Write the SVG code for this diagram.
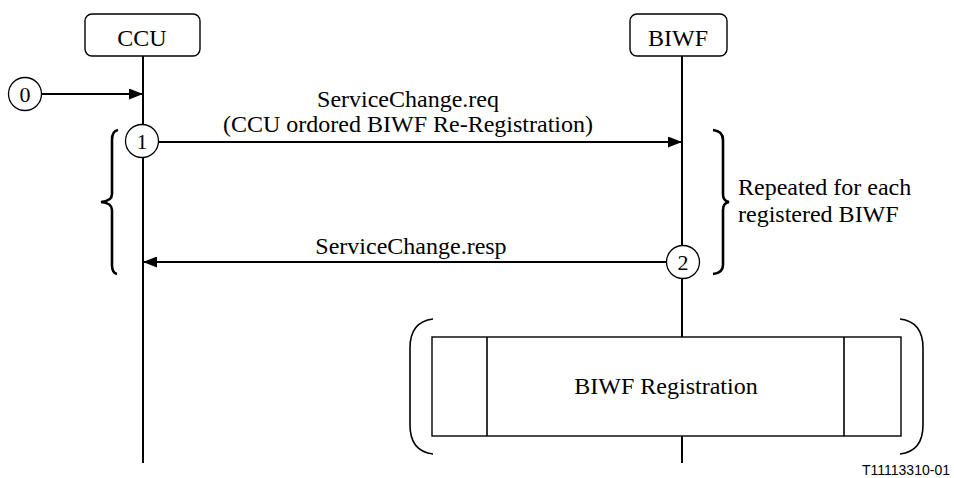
<svg xmlns="http://www.w3.org/2000/svg" width="954" height="478" viewBox="0 0 954 478">
<style>
.t{font-family:"Liberation Serif","Times New Roman",serif;font-size:24px;fill:#000}
.n{font-family:"Liberation Serif","Times New Roman",serif;font-size:22px;fill:#000}
.box{fill:#fff;stroke:#000;stroke-width:1.4}
.ln{stroke:#000;stroke-width:2;fill:none}
.br{stroke:#000;stroke-width:2.6;fill:none}
.pr{stroke:#000;stroke-width:1.6;fill:none}
.c{fill:#fff;stroke:#000;stroke-width:1.3}
</style>
<defs>
<marker id="ah" viewBox="0 0 14 11" refX="14" refY="5.5" markerWidth="14" markerHeight="11" markerUnits="userSpaceOnUse" orient="auto">
<path d="M0,0 L14,5.5 L0,11 Z" fill="#000"/>
</marker>
</defs>
<rect width="954" height="478" fill="#fff"/>
<g id="lifelines">
<line class="ln" x1="143" y1="56" x2="143" y2="463"/>
<line class="ln" x1="682" y1="56" x2="682" y2="463"/>
</g>
<g id="CCU">
<rect class="box" x="85" y="14" width="115" height="42" rx="7"/>
<text class="t" x="142" y="46" text-anchor="middle">CCU</text>
</g>
<g id="BIWF">
<rect class="box" x="630" y="14" width="97" height="42" rx="7"/>
<text class="t" x="678" y="46" text-anchor="middle">BIWF</text>
</g>
<g id="connectors">
<line class="ln" x1="42" y1="94" x2="143" y2="94" marker-end="url(#ah)"/>
<line class="ln" x1="158" y1="142" x2="682" y2="142" marker-end="url(#ah)"/>
<line class="ln" x1="666" y1="262" x2="143" y2="262" marker-end="url(#ah)"/>
</g>
<g id="labels">
<text class="t" x="408" y="107" text-anchor="middle">ServiceChange.req</text>
<text class="t" x="408" y="132" text-anchor="middle">(CCU ordored BIWF Re-Registration)</text>
<text class="t" x="411" y="254" text-anchor="middle">ServiceChange.resp</text>
</g>
<g id="step0">
<circle class="c" cx="25" cy="94" r="16.5"/>
<text class="n" x="25" y="102" text-anchor="middle">0</text>
</g>
<g id="step1">
<circle class="c" cx="142" cy="141" r="16.5"/>
<text class="n" x="142" y="149" text-anchor="middle">1</text>
</g>
<g id="step2">
<circle class="c" cx="683" cy="262" r="16.5"/>
<text class="n" x="683" y="270" text-anchor="middle">2</text>
</g>
<g id="left-brace">
<path class="br" d="M118,130 Q112,131 112,140 L112,194 Q112,201 101,202 Q112,203 112,210 L112,265 Q112,273 117,274"/>
</g>
<g id="right-brace">
<path class="br" d="M713,130 Q723,131 723,140 L723,194 Q723,201 729,202 Q723,203 723,210 L723,265 Q723,273 713,274"/>
<text class="t" x="738" y="195">Repeated for each</text>
<text class="t" x="738" y="222">registered BIWF</text>
</g>
<g id="BIWF-Registration">
<path class="pr" d="M433,319 C416,321 410,333 410,348 L410,425 C410,440 416,452 433,454"/>
<path class="pr" d="M900,319 C917,321 923,333 923,348 L923,425 C923,440 917,452 900,454"/>
<rect class="box" x="432" y="337" width="469" height="99"/>
<line class="pr" x1="487" y1="337" x2="487" y2="436"/>
<line class="pr" x1="844" y1="337" x2="844" y2="436"/>
<text class="t" x="666" y="394" text-anchor="middle">BIWF Registration</text>
</g>
<text x="862" y="475" font-family="Liberation Sans, Arial, sans-serif" font-size="14">T11113310-01</text>
</svg>
